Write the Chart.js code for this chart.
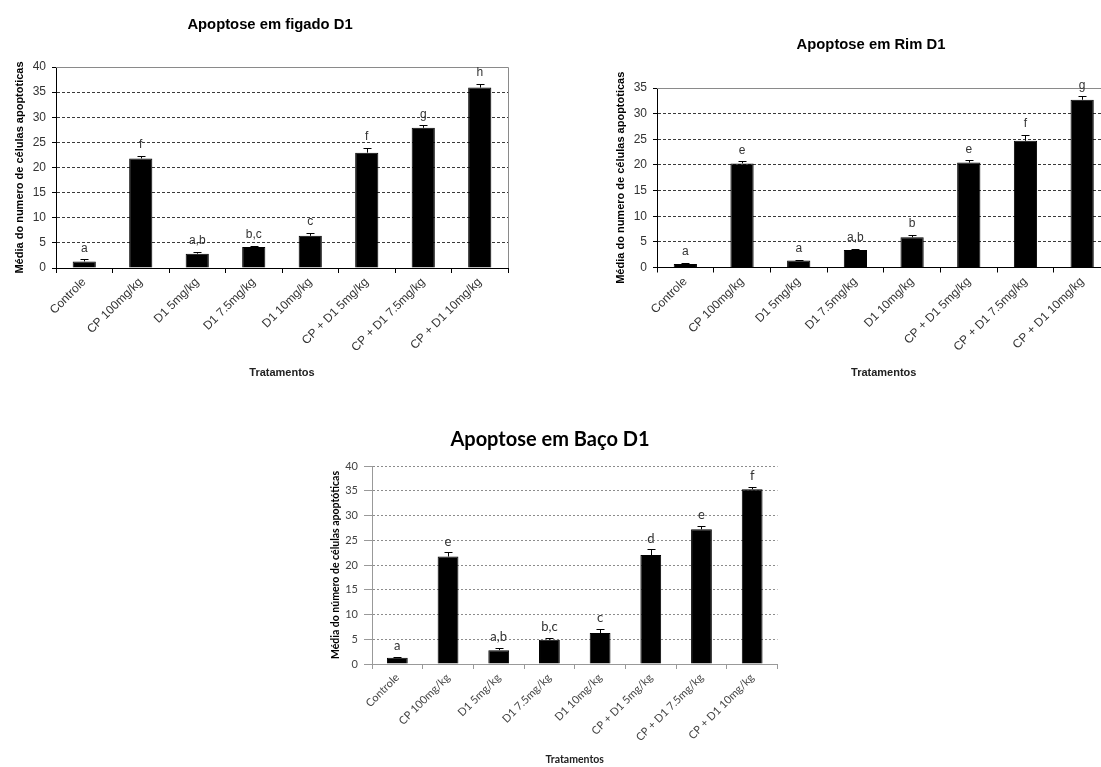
<!DOCTYPE html>
<html>
<head>
<meta charset="utf-8">
<script src="https://cdn.jsdelivr.net/npm/chart.js@4.4.1/dist/chart.umd.min.js"></script>
<style>
  html, body { margin: 0; padding: 0; background: #fff; overflow: hidden; }
  body { width: 1101px; height: 767px; position: relative; }
  canvas { position: absolute; }
</style>
</head>
<body>
<canvas id="figado" width="520" height="390" style="left:0;top:0"></canvas>
<canvas id="rim" width="560" height="370" style="left:560px;top:20px"></canvas>
<canvas id="baco" width="480" height="347" style="left:320px;top:420px"></canvas>
<script>
const categories = ["Controle", "CP 100mg/kg", "D1 5mg/kg", "D1 7.5mg/kg", "D1 10mg/kg",
  "CP + D1 5mg/kg", "CP + D1 7.5mg/kg", "CP + D1 10mg/kg"];

const figadoMeans = [1.3, 21.8, 2.85, 4.2, 6.4, 22.95, 27.9, 35.9];
const figadoErrors = [0.4, 0.55, 0.35, 0.2, 0.55, 0.95, 0.5, 0.8];
const figadoLetters = ["a", "f", "a,b", "b,c", "c", "f", "g", "h"];

const rimMeans = [0.7, 20.3, 1.35, 3.4, 5.9, 20.45, 24.7, 32.7];
const rimErrors = [0.2, 0.4, 0.2, 0.3, 0.5, 0.45, 1.1, 0.65];
const rimLetters = ["a", "e", "a", "a,b", "b", "e", "f", "g"];

const bacoMeans = [1.25, 21.7, 2.8, 4.9, 6.25, 22.0, 27.2, 35.3];
const bacoErrors = [0.15, 0.85, 0.5, 0.3, 0.8, 1.15, 0.65, 0.55];
const bacoLetters = ["a", "e", "a,b", "b,c", "c", "d", "e", "f"];

const ARIAL = "'Liberation Sans', Arial, sans-serif";
const CALIBRI = "Lato, 'Open Sans', sans-serif";

// error bars (upper whisker only) + significance letters
const errorBars = {
  id: "errorBars",
  afterDatasetsDraw(chart, args, opts) {
    const { ctx, scales: { y } } = chart;
    const meta = chart.getDatasetMeta(0);
    const values = chart.data.datasets[0].data;
    ctx.save();
    meta.data.forEach((bar, i) => {
      const top = y.getPixelForValue(values[i] + opts.errors[i]);
      const x = Math.round(bar.x) + 0.5;
      const yt = Math.round(top) + 0.5;
      ctx.strokeStyle = "#000";
      ctx.lineWidth = 1;
      ctx.beginPath();
      ctx.moveTo(x, bar.y);
      ctx.lineTo(x, yt);
      ctx.moveTo(x - opts.cap, yt);
      ctx.lineTo(x + opts.cap, yt);
      ctx.stroke();
      ctx.fillStyle = opts.color;
      ctx.font = opts.font;
      ctx.textAlign = "center";
      ctx.textBaseline = "middle";
      ctx.fillText(opts.letters[i], bar.x, top - opts.gap);
    });
    ctx.restore();
  }
};

// grey top/right border of the plot area
const frame = {
  id: "frame",
  beforeDatasetsDraw(chart, args, opts) {
    if (!opts.show) return;
    const { ctx, chartArea: a } = chart;
    ctx.save();
    ctx.strokeStyle = opts.color;
    ctx.lineWidth = 1;
    ctx.beginPath();
    ctx.moveTo(a.left, Math.round(a.top) + 0.5);
    ctx.lineTo(Math.round(a.right) + 0.5, Math.round(a.top) + 0.5);
    ctx.lineTo(Math.round(a.right) + 0.5, a.bottom);
    ctx.stroke();
    ctx.restore();
  }
};

const chartTitle = {
  id: "chartTitle",
  afterDraw(chart, args, opts) {
    const { ctx } = chart;
    ctx.save();
    ctx.fillStyle = "#000";
    ctx.font = opts.font;
    ctx.textAlign = "center";
    ctx.textBaseline = "middle";
    ctx.fillText(opts.text, opts.x, opts.y);
    ctx.restore();
  }
};

function makeChart(id, cfg) {
  const gridColor = (c) => (c.tick.value === 0 || (!cfg.gridTop && c.tick.value === cfg.max)) ? "rgba(0,0,0,0)" : cfg.gridColor;
  return new Chart(document.getElementById(id), {
    type: "bar",
    data: {
      labels: categories,
      datasets: [{
        data: cfg.means,
        backgroundColor: "#000",
        borderColor: "#000",
        borderWidth: 1,
        barPercentage: 0.41,
        categoryPercentage: 1
      }]
    },
    options: {
      responsive: false,
      animation: false,
      layout: { padding: { top: cfg.top, right: cfg.right, left: 0, bottom: 0 } },
      plugins: {
        legend: { display: false },
        tooltip: { enabled: false },
        errorBars: { errors: cfg.errors, letters: cfg.letters, cap: 4, gap: 11, font: cfg.letterFont, color: "#333" },
        frame: { show: cfg.frame, color: "#8a8a8a" },
        chartTitle: cfg.title
      },
      scales: {
        x: {
          afterFit: (s) => { s.height = cfg.xHeight; },
          border: { color: cfg.axisColor, width: 1 },
          grid: { drawOnChartArea: false, tickLength: 5, tickColor: cfg.axisColor, offset: true },
          ticks: { minRotation: 45, maxRotation: 45, autoSkip: false, padding: 2, color: cfg.tickColor, font: cfg.tickFont },
          title: { display: true, text: "Tratamentos", color: "#222", font: cfg.axisTitleFont, padding: { top: 0, bottom: cfg.xTitlePad } }
        },
        y: {
          min: 0,
          max: cfg.max,
          afterFit: (s) => { s.width = cfg.yWidth; },
          border: { color: cfg.axisColor, width: 1, dash: cfg.dash },
          grid: { color: gridColor, tickColor: cfg.axisColor, tickLength: cfg.yTick, tickBorderDash: [] },
          ticks: { stepSize: 5, padding: 6, color: cfg.tickColor, font: cfg.yTickFont },
          title: { display: true, text: cfg.yTitle, color: "#000", font: cfg.axisTitleFont, padding: { top: cfg.yTitlePad, bottom: 0 } }
        }
      }
    },
    plugins: [errorBars, frame, chartTitle]
  });
}

makeChart("figado", {
  means: figadoMeans, errors: figadoErrors, letters: figadoLetters, max: 40,
  top: 67, right: 12, xHeight: 122, yWidth: 56, yTick: 4,
  gridColor: "#3a3a3a", gridTop: false, dash: [3, 2], frame: true, axisColor: "#000",
  tickColor: "#333", tickFont: { family: ARIAL, size: 12 }, yTickFont: { family: ARIAL, size: 12 },
  axisTitleFont: { family: ARIAL, size: 11, weight: "bold" }, xTitlePad: 10, yTitlePad: 13,
  yTitle: "Média do numero de células apoptoticas",
  letterFont: "12px " + ARIAL,
  title: { text: "Apoptose em figado D1", x: 270, y: 25, font: "bold 14.8px " + ARIAL }
});

makeChart("rim", {
  means: rimMeans, errors: rimErrors, letters: rimLetters, max: 35,
  top: 68, right: 9.5, xHeight: 122.5, yWidth: 97, yTick: 4,
  gridColor: "#3a3a3a", gridTop: false, dash: [3, 2], frame: true, axisColor: "#000",
  tickColor: "#333", tickFont: { family: ARIAL, size: 12 }, yTickFont: { family: ARIAL, size: 12 },
  axisTitleFont: { family: ARIAL, size: 11, weight: "bold" }, xTitlePad: 10, yTitlePad: 54,
  yTitle: "Média do numero de células apoptoticas",
  letterFont: "12px " + ARIAL,
  title: { text: "Apoptose em Rim D1", x: 311, y: 25, font: "bold 14.8px " + ARIAL }
});

makeChart("baco", {
  means: bacoMeans, errors: bacoErrors, letters: bacoLetters, max: 40,
  top: 46, right: 22.5, xHeight: 103, yWidth: 52, yTick: 8,
  gridColor: "#8c8c8c", gridTop: true, dash: [2, 2], frame: false, axisColor: "#999",
  tickColor: "#444", tickFont: { family: CALIBRI, size: 11 }, yTickFont: { family: CALIBRI, size: 11 },
  axisTitleFont: { family: CALIBRI, size: 10.5, weight: "bold" }, xTitlePad: 1, yTitlePad: 9,
  yTitle: "Média do número de células apoptóticas",
  letterFont: "13px " + CALIBRI,
  title: { text: "Apoptose em Baço D1", x: 230, y: 20, font: "bold 20px " + CALIBRI }
});
</script>
</body>
</html>
